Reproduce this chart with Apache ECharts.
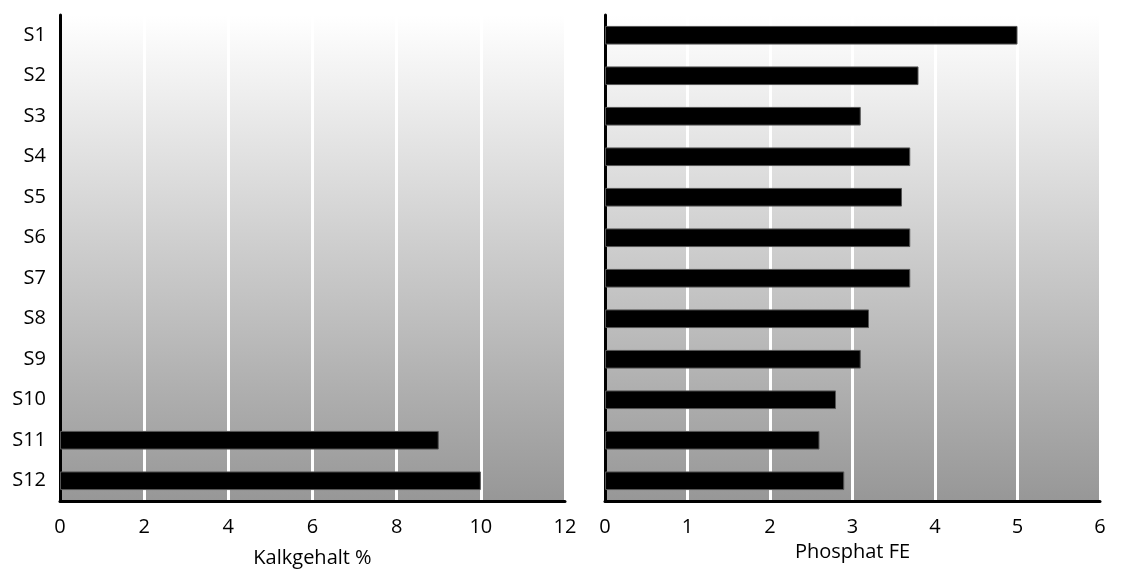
<!DOCTYPE html>
<html><head><meta charset="utf-8">
<script src="https://cdn.jsdelivr.net/npm/echarts@6/dist/echarts.min.js"></script>
<style>html,body{margin:0;padding:0;background:#fff}#c{width:1127px;height:572px}</style>
</head><body><div id="c"></div>
<script>
const categories = ['S1','S2','S3','S4','S5','S6','S7','S8','S9','S10','S11','S12'];
const kalkgehalt = [null,null,null,null,null,null,null,null,null,null,9,10];
const phosphat = [5,3.8,3.1,3.7,3.6,3.7,3.7,3.2,3.1,2.8,2.6,2.9];
const leftTicks = [0,2,4,6,8,10,12];
const rightTicks = [0,1,2,3,4,5,6];

const font = 'Open Sans';
const bg = {type:'linear',x:0,y:0,x2:0,y2:1,colorStops:[{offset:0,color:'#ffffff'},{offset:1,color:'#979797'}]};
const chart = echarts.init(document.getElementById('c'));
function xAxis(idx, ticks, name){
  return {type:'value',gridIndex:idx,min:ticks[0],max:ticks[ticks.length-1],interval:ticks[1]-ticks[0],
    name:name,nameLocation:'middle',nameGap:idx===0?47:40,
    nameTextStyle:{fontFamily:font,fontSize:20,color:'#000'},
    axisLine:{show:true,lineStyle:{color:'#000',width:3}},axisTick:{show:false},
    axisLabel:{fontFamily:font,fontSize:20,color:'#000',margin:16},
    splitLine:{show:true,lineStyle:{color:'#ffffff',width:3}}};
}
function yAxis(idx, showLabels){
  return {type:'category',gridIndex:idx,data:categories,inverse:true,
    axisLine:{show:true,lineStyle:{color:'#000',width:3}},axisTick:{show:false},
    axisLabel:{show:showLabels,fontFamily:font,fontSize:20,color:'#000',margin:14},
    splitLine:{show:false}};
}
chart.setOption({
  animation:false,
  grid:[
    {left:60,width:505,top:15,bottom:71,show:true,backgroundColor:bg,borderWidth:0,outerBoundsMode:'none',containLabel:false},
    {left:605,width:495,top:15,bottom:71,show:true,backgroundColor:bg,borderWidth:0,outerBoundsMode:'none',containLabel:false}
  ],
  xAxis:[xAxis(0,leftTicks,'Kalkgehalt %'),xAxis(1,rightTicks,'Phosphat FE')],
  yAxis:[yAxis(0,true),yAxis(1,false)],
  series:[
    {type:'bar',xAxisIndex:0,yAxisIndex:0,data:kalkgehalt,barWidth:'46%',
     itemStyle:{color:'#000',borderColor:'#555',borderWidth:1}},
    {type:'bar',xAxisIndex:1,yAxisIndex:1,data:phosphat,barWidth:'46%',
     itemStyle:{color:'#000',borderColor:'#555',borderWidth:1}}
  ]
});
</script></body></html>
